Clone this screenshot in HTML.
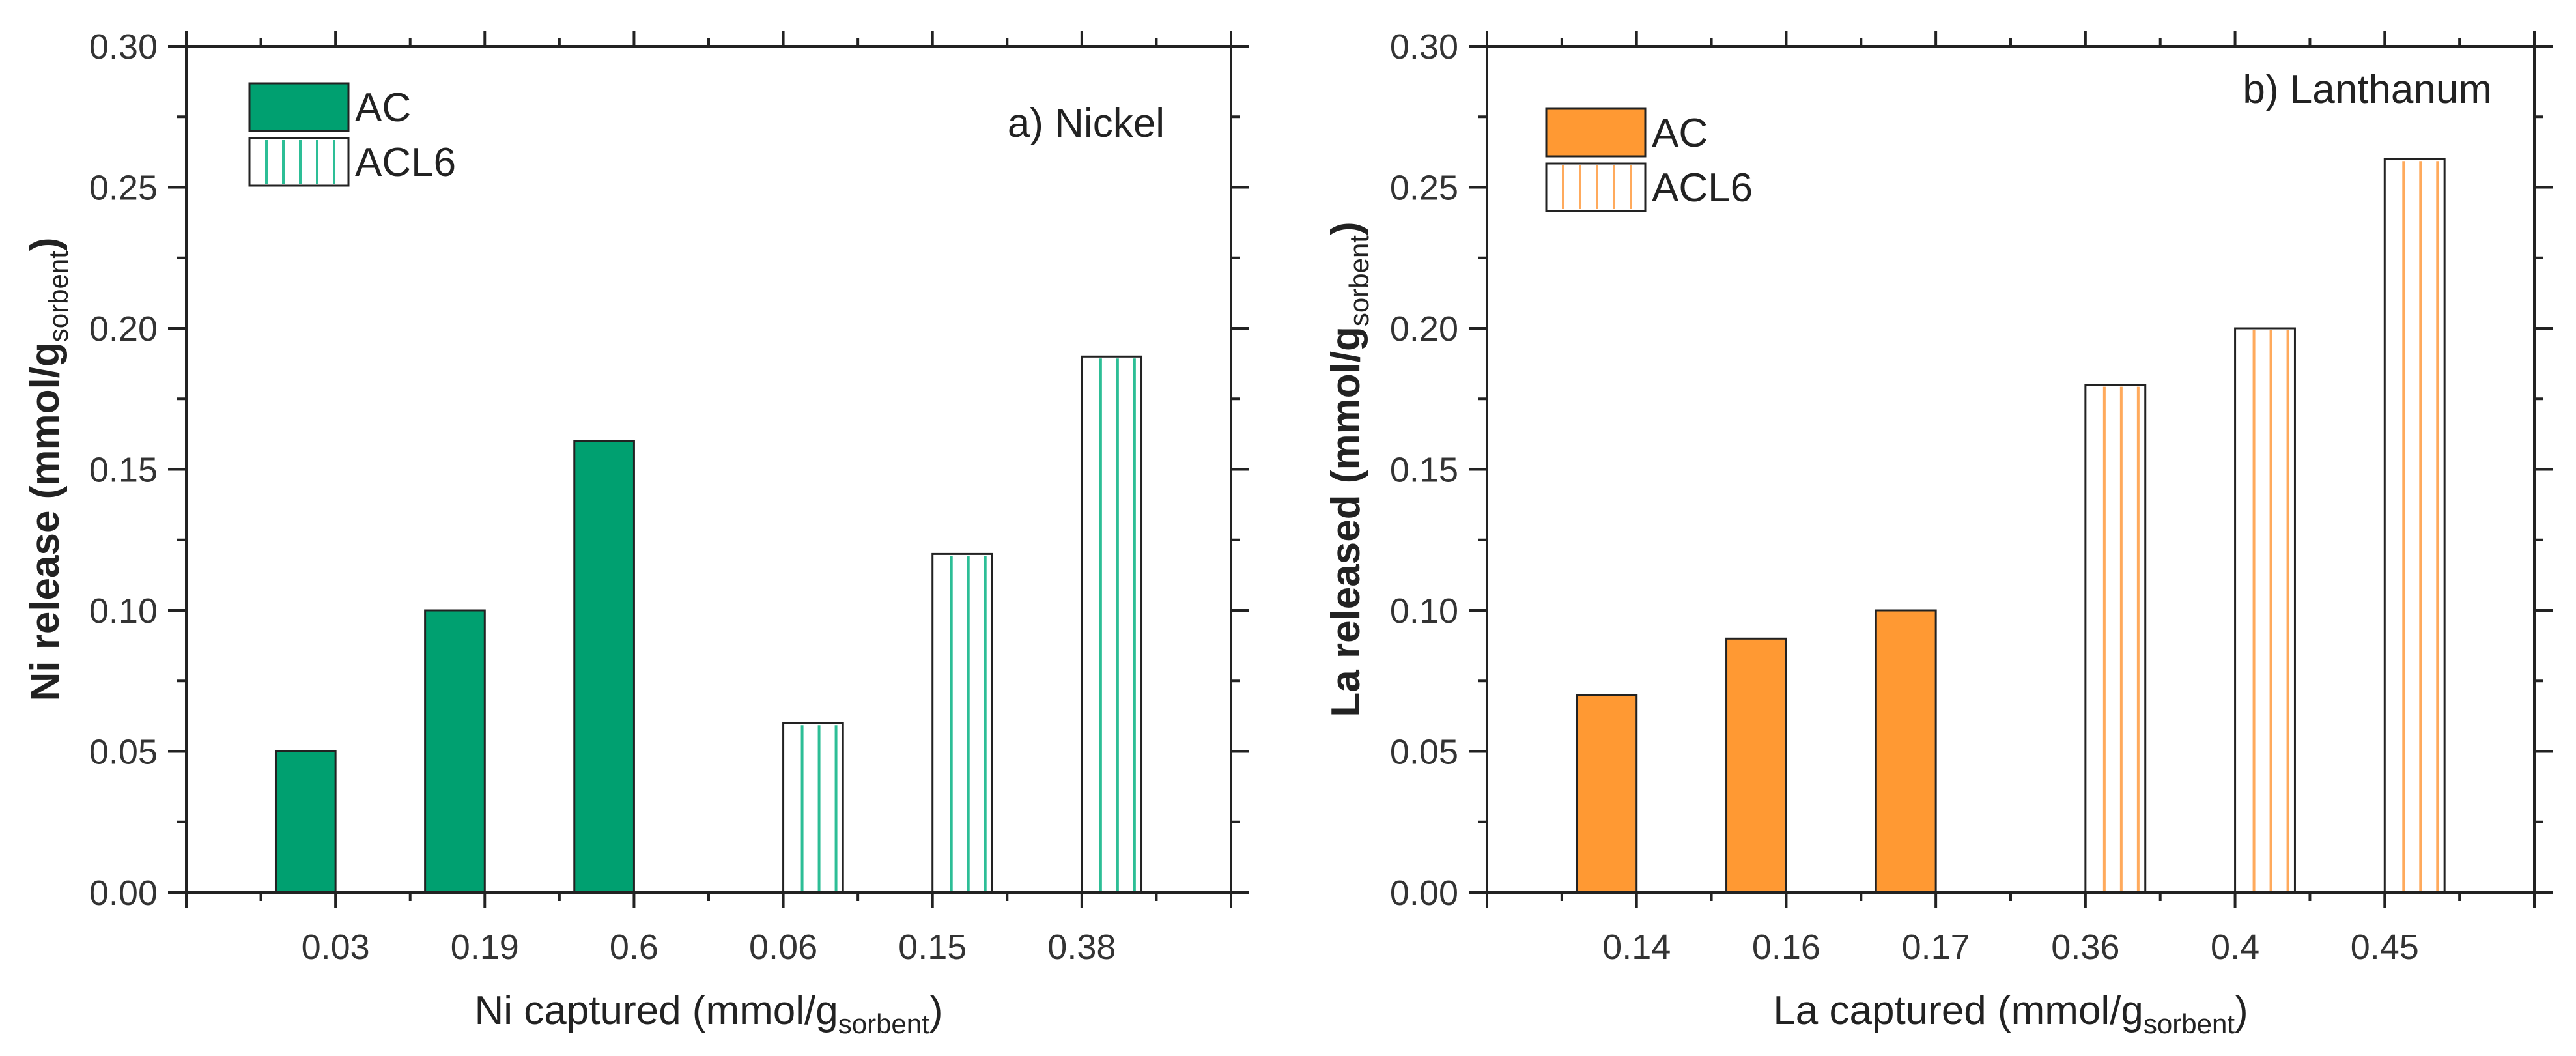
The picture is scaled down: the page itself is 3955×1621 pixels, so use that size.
<!DOCTYPE html>
<html><head><meta charset="utf-8"><style>
html,body{margin:0;padding:0;background:#fff;}
svg{display:block;font-family:"Liberation Sans",Arial,sans-serif;}
</style></head><body>
<svg id="chart" width="3955" height="1621" viewBox="0 0 3955 1621" xmlns="http://www.w3.org/2000/svg"></svg>
<script>
const niCategories = ["0.03","0.19","0.6","0.06","0.15","0.38"];
const niAC = [0.05, 0.10, 0.16];
const niACL6 = [0.06, 0.12, 0.19];
const laCategories = ["0.14","0.16","0.17","0.36","0.4","0.45"];
const laAC = [0.07, 0.09, 0.10];
const laACL6 = [0.18, 0.20, 0.26];
const yTicks = [0, 0.05, 0.10, 0.15, 0.20, 0.25, 0.30];
const yTickLabels = ["0.00","0.05","0.10","0.15","0.20","0.25","0.30"];

const NS = "http://www.w3.org/2000/svg";
const svg = document.getElementById('chart');
function el(tag, attrs, parent, text) {
  const e = document.createElementNS(NS, tag);
  for (const k in attrs) e.setAttribute(k, attrs[k]);
  if (text !== undefined) e.textContent = text;
  (parent || svg).appendChild(e);
  return e;
}

function panel(opt) {
  const g = el('g', {});
  
  
  const L = opt.left, R = opt.right, T = 71, B = 1370;
  const yMax = 0.30;
  const ys = v => B - (v / yMax) * (B - T);
  const step = (R - L) / 7;
  const xs = i => L + step * (i + 1);
  const bw = step * 0.4;
  const ink = '#222';

  // bars
  const nAC = opt.ac.length;
  opt.ac.forEach((v, i) => {
    const x = xs(i) - bw, y = ys(v);
    const r = el('rect', {x: x, y: y, width: bw, height: B - y, fill: opt.fill, stroke: ink, 'stroke-width': 3}, g);
    
    
  });
  opt.acl6.forEach((v, j) => {
    const i = j + nAC;
    const x = xs(i), y = ys(v);
    const bg = el('g', {}, g);
    
    
    el('rect', {x: x, y: y, width: bw, height: B - y, fill: '#fff'}, bg);
    for (let k = 1; k <= 3; k++) {
      const lx = x + 3 + 26 * k;
      el('line', {x1: lx, x2: lx, y1: y + 3, y2: B - 3, stroke: opt.hatch, 'stroke-width': 4}, bg);
    }
    el('rect', {x: x, y: y, width: bw, height: B - y, fill: 'none', stroke: ink, 'stroke-width': 3}, bg);
  });

  // frame
  const fr = el('rect', {x: L, y: T, width: R - L, height: B - T, fill: 'none', stroke: ink, 'stroke-width': 4}, g);
  
  

  // x ticks (bottom outward, top outward)
  for (let k = 0; k <= 7; k++) {
    const x = L + step * k;
    el('line', {x1: x, x2: x, y1: B, y2: B + 24, stroke: ink, 'stroke-width': 4}, g);
    el('line', {x1: x, x2: x, y1: T, y2: T - 24, stroke: ink, 'stroke-width': 4}, g);
    if (k < 7) {
      const xm = x + step / 2;
      el('line', {x1: xm, x2: xm, y1: B, y2: B + 13, stroke: ink, 'stroke-width': 4}, g);
      el('line', {x1: xm, x2: xm, y1: T, y2: T - 13, stroke: ink, 'stroke-width': 4}, g);
    }
  }
  opt.cats.forEach((c, i) => {
    const t = el('text', {x: xs(i), y: 1472, 'font-size': 54, fill: '#333', 'text-anchor': 'middle'}, g, c);
    
    
  });

  // y ticks
  yTicks.forEach((v, i) => {
    const y = ys(v);
    el('line', {x1: L, x2: L - 28, y1: y, y2: y, stroke: ink, 'stroke-width': 4}, g);
    el('line', {x1: R, x2: R + 28, y1: y, y2: y, stroke: ink, 'stroke-width': 4}, g);
    if (i < yTicks.length - 1) {
      const ym = ys(v + 0.025);
      el('line', {x1: L, x2: L - 14, y1: ym, y2: ym, stroke: ink, 'stroke-width': 4}, g);
      el('line', {x1: R, x2: R + 14, y1: ym, y2: ym, stroke: ink, 'stroke-width': 4}, g);
    }
    const t = el('text', {x: L - 44, y: y + 19, 'font-size': 54, fill: '#333', 'text-anchor': 'end'}, g, yTickLabels[i]);
    
    
  });

  // axis titles
  const xt = el('text', {x: (L + R) / 2, y: 1572, 'font-size': 62, fill: '#222', 'text-anchor': 'middle'}, g);
  
  
  el('tspan', {}, xt, opt.xTitle + ' (mmol/g');
  el('tspan', {'font-size': 42, dy: 14}, xt, 'sorbent');
  el('tspan', {dy: -14}, xt, ')');

  const yt = el('text', {x: 0, y: 0, 'font-size': 62, fill: '#222', 'text-anchor': 'middle', 'font-weight': 'bold',
    transform: 'translate(' + (L - 196) + ',' + ((T + B) / 2) + ') rotate(-90)'}, g);
  
  
  el('tspan', {}, yt, opt.yTitle + ' (mmol/g');
  el('tspan', {'font-size': 42, dy: 14, 'font-weight': 'normal'}, yt, 'sorbent');
  el('tspan', {dy: -14}, yt, ')');

  // legend
  const lg = el('g', {}, g);
  
  
  const lx = opt.legX, ly = opt.legY, lw = 152, lh = 73;
  const e1 = el('g', {}, lg);
  
  
  el('rect', {x: lx, y: ly, width: lw, height: lh, fill: opt.fill, stroke: ink, 'stroke-width': 3}, e1);
  el('text', {x: lx + lw + 10, y: ly + 58, 'font-size': 62, fill: '#222'}, e1, 'AC');
  const e2 = el('g', {}, lg);
  
  
  const ly2 = ly + 84;
  el('rect', {x: lx, y: ly2, width: lw, height: lh, fill: '#fff'}, e2);
  for (let k = 1; k <= 5; k++) {
    const xx = lx + 26 * k;
    el('line', {x1: xx, x2: xx, y1: ly2 + 3, y2: ly2 + lh - 3, stroke: opt.hatch, 'stroke-width': 4}, e2);
  }
  el('rect', {x: lx, y: ly2, width: lw, height: lh, fill: 'none', stroke: ink, 'stroke-width': 3}, e2);
  el('text', {x: lx + lw + 10, y: ly2 + 58, 'font-size': 62, fill: '#222'}, e2, 'ACL6');

  const pt = el('text', {x: opt.titleX, y: opt.titleY, 'font-size': 62, fill: '#222', 'text-anchor': 'end'}, g, opt.title);
  
  
}

panel({name: 'nickel-panel', left: 286, right: 1890, cats: niCategories, ac: niAC, acl6: niACL6,
  fill: '#00A070', hatch: '#2DBE96', xTitle: 'Ni captured', yTitle: 'Ni release',
  legX: 383, legY: 128, title: 'a) Nickel', titleX: 1788, titleY: 210});
panel({name: 'lanthanum-panel', left: 2283, right: 3891, cats: laCategories, ac: laAC, acl6: laACL6,
  fill: '#FF9933', hatch: '#FFAA5C', xTitle: 'La captured', yTitle: 'La released',
  legX: 2374, legY: 167, title: 'b) Lanthanum', titleX: 3826, titleY: 158});
</script>
</body></html>
